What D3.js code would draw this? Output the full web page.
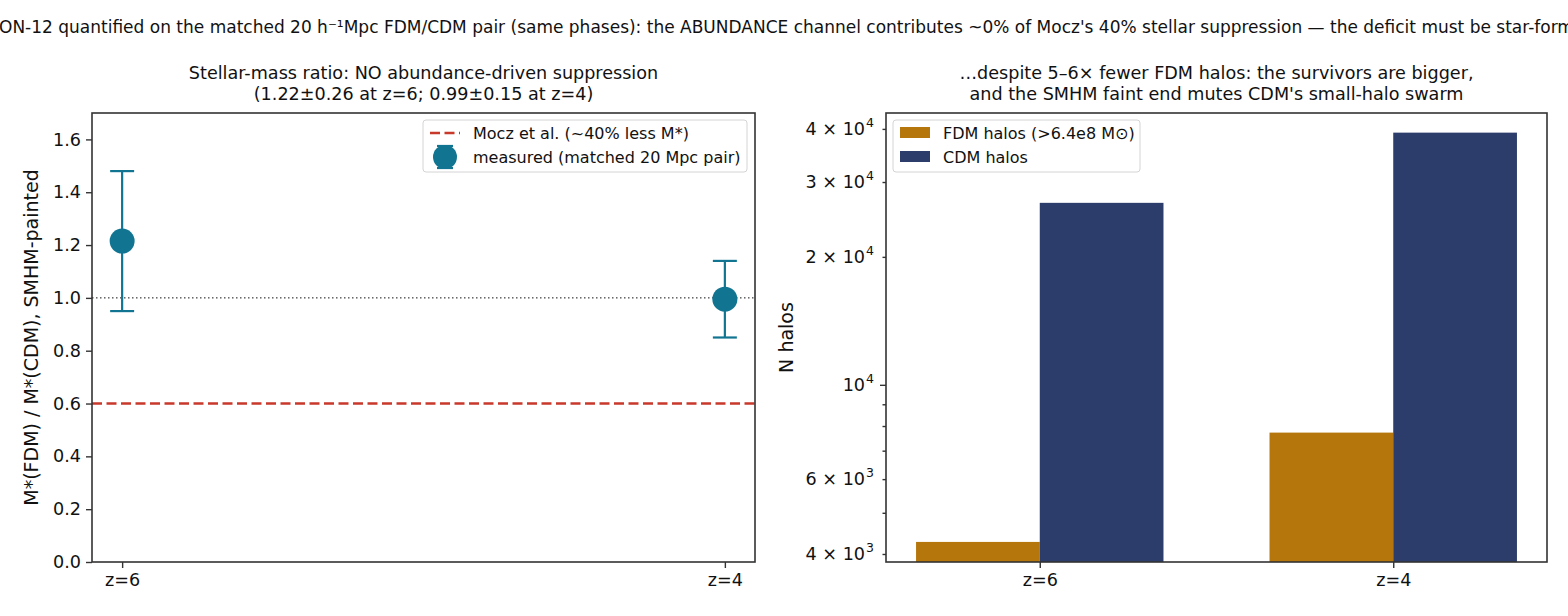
<!DOCTYPE html>
<html>
<head>
<meta charset="utf-8">
<script src="https://cdn.jsdelivr.net/npm/d3@7"></script>
<style>
  html, body { margin: 0; padding: 0; background: #fff; overflow: hidden; }
  svg { display: block; font-family: "DejaVu Sans", sans-serif; }
</style>
</head>
<body>
<div id="chart"></div>
<script>
// values
var redshifts = ["z=6", "z=4"];
var ratioValues = [1.215, 0.995];
var ratioErrors = [0.265, 0.145];
var moczRatio = 0.6;
var unityRatio = 1.0;
var ratioTicks = [0, 0.2, 0.4, 0.6, 0.8, 1.0, 1.2, 1.4, 1.6];

var fdmHalos = [4270, 7720];
var cdmHalos = [26800, 39200];
var haloLabelTicks = [4000, 6000, 10000, 20000, 30000, 40000];
var haloMinorTicks = [4000, 5000, 6000, 7000, 8000, 9000, 20000, 30000, 40000];
var haloMajorTicks = [10000];

var seriesNames = ["FDM halos (>6.4e8 M\u2299)", "CDM halos"];
var seriesColors = ["#b5770b", "#2c3d6b"];

var suptitle = "ON-12 quantified on the matched 20 h\u207B\u00B9Mpc FDM/CDM pair (same phases): the ABUNDANCE channel contributes ~0% of Mocz's 40% stellar suppression \u2014 the deficit must be star-formation";
var leftTitle = ["Stellar-mass ratio: NO abundance-driven suppression", "(1.22\u00B10.26 at z=6; 0.99\u00B10.15 at z=4)"];
var rightTitle = ["\u2026despite 5\u20136\u00D7 fewer FDM halos: the survivors are bigger,", "and the SMHM faint end mutes CDM's small-halo swarm"];

(function() {
  var W = 1568, H = 616;
  var FONT = "DejaVu Sans";
  var tickFont = 17.6, titleFont = 17.6, legendFont = 16, labelFont = 19;
  var spine = "#333";

  var svg = d3.select("#chart").append("svg")
      .attr("width", W).attr("height", H);

  svg.append("text")
      .attr("x", -1).attr("y", 33)
      .attr("font-size", 17.0)
      .attr("fill", "#111")
      .text(suptitle);

  var top = 113, bottom = 562;

  // ---------- left panel: stellar mass ratio ----------
  var L = {left: 92, right: 755};
  var x1 = d3.scaleLinear().domain([-0.05, 1.05]).range([L.left, L.right]);
  var y1 = d3.scaleLinear().domain([0, 1.7]).range([bottom, top]);

  var g1 = svg.append("g");

  g1.append("line")
      .attr("x1", L.left).attr("x2", L.right)
      .attr("y1", y1(unityRatio)).attr("y2", y1(unityRatio))
      .attr("stroke", "#111").attr("stroke-width", 1)
      .attr("stroke-dasharray", "1.5,2.5");

  g1.append("line")
      .attr("x1", L.left).attr("x2", L.right)
      .attr("y1", y1(moczRatio)).attr("y2", y1(moczRatio))
      .attr("stroke", "#c8392b").attr("stroke-width", 2.6)
      .attr("stroke-dasharray", "10,4.5");

  var teal = "#117592";
  var pts = g1.selectAll("g.pt").data(ratioValues).enter().append("g");
  pts.append("line")
      .attr("x1", function(d, i) { return x1(i); })
      .attr("x2", function(d, i) { return x1(i); })
      .attr("y1", function(d, i) { return y1(d - ratioErrors[i]); })
      .attr("y2", function(d, i) { return y1(d + ratioErrors[i]); })
      .attr("stroke", teal).attr("stroke-width", 2.2);
  [-1, 1].forEach(function(s) {
    pts.append("line")
        .attr("x1", function(d, i) { return x1(i) - 12; })
        .attr("x2", function(d, i) { return x1(i) + 12; })
        .attr("y1", function(d, i) { return y1(d + s * ratioErrors[i]); })
        .attr("y2", function(d, i) { return y1(d + s * ratioErrors[i]); })
        .attr("stroke", teal).attr("stroke-width", 2.2);
  });
  pts.append("circle")
      .attr("cx", function(d, i) { return x1(i); })
      .attr("cy", function(d) { return y1(d); })
      .attr("r", 12.5)
      .attr("fill", teal);

  var ax1 = g1.append("g")
      .attr("transform", "translate(" + L.left + ",0)")
      .call(d3.axisLeft(y1).tickValues(ratioTicks).tickFormat(d3.format(".1f")).tickSize(6).tickPadding(5));
  var bx1 = g1.append("g")
      .attr("transform", "translate(0," + bottom + ")")
      .call(d3.axisBottom(x1).tickValues([0, 1]).tickFormat(function(d) { return redshifts[d]; }).tickSize(6).tickPadding(6));
  [ax1, bx1].forEach(function(a) {
    a.select(".domain").remove();
    a.selectAll("line").attr("stroke", spine).attr("stroke-width", 1.4);
    a.selectAll("text").attr("font-size", tickFont).attr("fill", "#111").attr("font-family", FONT);
  });

  g1.append("rect")
      .attr("x", L.left).attr("y", top)
      .attr("width", L.right - L.left).attr("height", bottom - top)
      .attr("fill", "none").attr("stroke", spine).attr("stroke-width", 1.6);

  leftTitle.forEach(function(t, i) {
    g1.append("text")
        .attr("x", (L.left + L.right) / 2).attr("y", 79 + i * 21)
        .attr("text-anchor", "middle").attr("font-size", titleFont).attr("fill", "#111")
        .text(t);
  });

  g1.append("text")
      .attr("transform", "translate(38," + ((top + bottom) / 2) + ") rotate(-90)")
      .attr("text-anchor", "middle").attr("font-size", labelFont).attr("fill", "#111")
      .text("M*(FDM) / M*(CDM), SMHM-painted");

  // legend
  var lg1 = g1.append("g");
  lg1.append("rect")
      .attr("x", 423).attr("y", 120).attr("width", 324).attr("height", 52).attr("rx", 3)
      .attr("fill", "#fff").attr("fill-opacity", 0.8).attr("stroke", "#d4d4d4");
  lg1.append("line")
      .attr("x1", 430).attr("x2", 460).attr("y1", 133).attr("y2", 133)
      .attr("stroke", "#c8392b").attr("stroke-width", 2.6).attr("stroke-dasharray", "10,4.5");
  lg1.append("text").attr("x", 473).attr("y", 139).attr("font-size", legendFont).attr("fill", "#111")
      .text("Mocz et al. (~40% less M*)");
  lg1.append("line").attr("x1", 445).attr("x2", 445).attr("y1", 146).attr("y2", 168)
      .attr("stroke", teal).attr("stroke-width", 2.2);
  [146, 168].forEach(function(yy) {
    lg1.append("line").attr("x1", 437).attr("x2", 453).attr("y1", yy).attr("y2", yy)
        .attr("stroke", teal).attr("stroke-width", 2.2);
  });
  lg1.append("circle").attr("cx", 445).attr("cy", 157).attr("r", 12).attr("fill", teal);
  lg1.append("text").attr("x", 473).attr("y", 163).attr("font-size", legendFont).attr("fill", "#111")
      .text("measured (matched 20 Mpc pair)");

  // ---------- right panel: halo counts ----------
  var R = {left: 886, right: 1547};
  var barW = 0.35;
  var x2 = d3.scaleLinear().domain([-0.435, 1.435]).range([R.left, R.right]);
  var y2 = d3.scaleLog().domain([3830, 43600]).range([bottom, top]);

  var g2 = svg.append("g");
  var series = [fdmHalos, cdmHalos];
  series.forEach(function(vals, s) {
    g2.selectAll("rect.s" + s).data(vals).enter().append("rect")
        .attr("x", function(d, i) { return x2(i + (s === 0 ? -barW : 0)); })
        .attr("width", x2(barW) - x2(0))
        .attr("y", function(d) { return y2(d); })
        .attr("height", function(d) { return bottom - y2(d); })
        .attr("fill", seriesColors[s]);
  });

  var ax2 = g2.append("g").attr("transform", "translate(" + R.left + ",0)");
  ax2.call(d3.axisLeft(y2).tickValues(haloMinorTicks).tickFormat("").tickSize(3.5));
  ax2.append("g").call(d3.axisLeft(y2).tickValues(haloMajorTicks).tickFormat("").tickSize(6));
  ax2.selectAll(".domain").remove();
  ax2.selectAll("line").attr("stroke", spine).attr("stroke-width", 1.4);

  var lbls = ax2.append("g").attr("font-family", FONT);
  haloLabelTicks.forEach(function(v) {
    var e = Math.floor(Math.log10(v) + 1e-9), m = Math.round(v / Math.pow(10, e));
    var t = lbls.append("text")
        .attr("x", -12).attr("y", y2(v) + 6)
        .attr("text-anchor", "end").attr("font-size", tickFont).attr("fill", "#111")
        .attr("font-family", FONT);
    t.append("tspan").text((m === 1 ? "" : m + " \u00D7 ") + "10");
    t.append("tspan").attr("dy", -8).attr("dx", 1).attr("font-size", 12.5).text(e);
  });

  var bx2 = g2.append("g")
      .attr("transform", "translate(0," + bottom + ")")
      .call(d3.axisBottom(x2).tickValues([0, 1]).tickFormat(function(d) { return redshifts[d]; }).tickSize(6).tickPadding(6));
  bx2.select(".domain").remove();
  bx2.selectAll("line").attr("stroke", spine).attr("stroke-width", 1.4);
  bx2.selectAll("text").attr("font-size", tickFont).attr("fill", "#111").attr("font-family", FONT);

  g2.append("rect")
      .attr("x", R.left).attr("y", top)
      .attr("width", R.right - R.left).attr("height", bottom - top)
      .attr("fill", "none").attr("stroke", spine).attr("stroke-width", 1.6);

  rightTitle.forEach(function(t, i) {
    g2.append("text")
        .attr("x", (R.left + R.right) / 2).attr("y", 79 + i * 21)
        .attr("text-anchor", "middle").attr("font-size", titleFont).attr("fill", "#111")
        .text(t);
  });

  g2.append("text")
      .attr("transform", "translate(793," + ((top + bottom) / 2) + ") rotate(-90)")
      .attr("text-anchor", "middle").attr("font-size", labelFont).attr("fill", "#111")
      .text("N halos");

  var lg2 = g2.append("g");
  lg2.append("rect")
      .attr("x", 893).attr("y", 120).attr("width", 247).attr("height", 52).attr("rx", 3)
      .attr("fill", "#fff").attr("fill-opacity", 0.8).attr("stroke", "#d4d4d4");
  seriesNames.forEach(function(n, s) {
    lg2.append("rect").attr("x", 900).attr("y", 127 + s * 24).attr("width", 30).attr("height", 11)
        .attr("fill", seriesColors[s]);
    lg2.append("text").attr("x", 943).attr("y", 139 + s * 24).attr("font-size", legendFont).attr("fill", "#111")
        .text(n);
  });
})();
</script>
</body>
</html>
